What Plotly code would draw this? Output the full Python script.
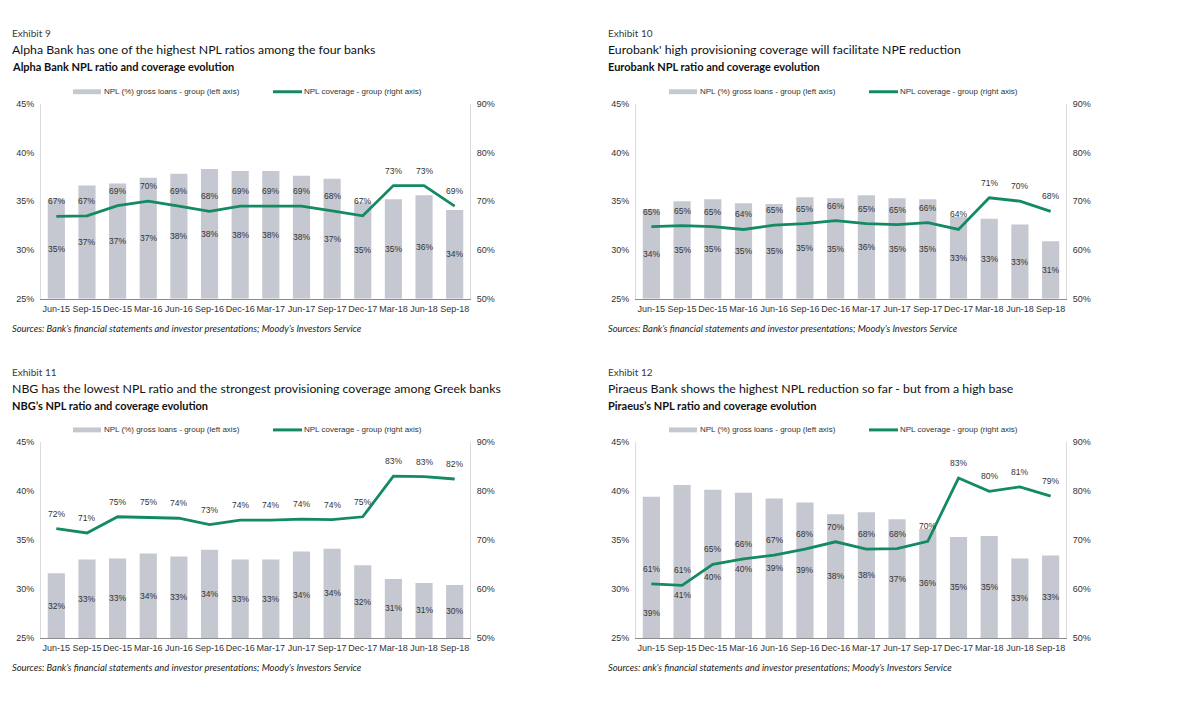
import plotly.graph_objects as go

# ---------------- data ----------------
DATES = ["Jun-15", "Sep-15", "Dec-15", "Mar-16", "Jun-16", "Sep-16", "Dec-16",
         "Mar-17", "Jun-17", "Sep-17", "Dec-17", "Mar-18", "Jun-18", "Sep-18"]

LEFT_TICKS = [25, 30, 35, 40, 45]
RIGHT_TICKS = [50, 60, 70, 80, 90]

ALPHA_NPL = [35.2, 36.6, 36.8, 37.4, 37.8, 38.3, 38.1, 38.1, 37.6, 37.3, 34.9, 35.2, 35.6, 34.1]
ALPHA_COV = [66.9, 67.0, 69.1, 70.0, 69.0, 67.9, 69.0, 69.0, 69.0, 68.0, 67.0, 73.2, 73.2, 69.0]

EURO_NPL = [34.2, 35.0, 35.2, 34.8, 34.7, 35.4, 35.3, 35.6, 35.3, 35.2, 33.4, 33.2, 32.6, 30.9]
EURO_COV = [64.8, 65.0, 64.8, 64.2, 65.1, 65.4, 66.0, 65.4, 65.2, 65.6, 64.2, 70.7, 70.0, 67.9]

NBG_NPL = [31.6, 33.0, 33.1, 33.6, 33.3, 34.0, 33.0, 33.0, 33.8, 34.1, 32.4, 31.0, 30.6, 30.4]
NBG_COV = [72.3, 71.4, 74.7, 74.6, 74.4, 73.1, 74.0, 74.0, 74.2, 74.1, 74.7, 83.0, 82.9, 82.4]

PIRAEUS_NPL = [39.4, 40.6, 40.1, 39.8, 39.2, 38.8, 37.6, 37.8, 37.1, 36.1, 35.3, 35.4, 33.1, 33.4]
PIRAEUS_COV = [61.0, 60.7, 65.0, 66.1, 66.9, 68.1, 69.6, 68.1, 68.2, 69.7, 82.6, 79.9, 80.8, 78.9]

BAR_NAME = "NPL (%) gross loans - group (left axis)"
LINE_NAME = "NPL coverage - group (right axis)"

SOURCES = "Sources: Bank\u2019s financial statements and investor presentations; Moody\u2019s Investors Service"
SOURCES_P = "Sources: ank\u2019s financial statements and investor presentations; Moody\u2019s Investors Service"

# ---------------- styling ----------------
W, H = 1200, 707
BAR_COLOR = "#c5c8d1"
LINE_COLOR = "#138a61"
TXT = "#333333"
ARIAL = "Liberation Sans, Arial, sans-serif"
HEAD = "Lato, Liberation Sans, sans-serif"

# label shifts (pixels) for the Piraeus bar labels moved in the original
PIRAEUS_BAR_LABEL_SHIFT = [-46, -34, -13, -4, 0, 0, 0, 0, 0, 0, 0, 0, 0, 0]
NO_SHIFT = [0] * 14

panels = [
    dict(exhibit="Exhibit 9",
         title="Alpha Bank has one of the highest NPL ratios among the four banks",
         subtitle="Alpha Bank NPL ratio and coverage evolution",
         sources=SOURCES, npl=ALPHA_NPL, cov=ALPHA_COV, shift=NO_SHIFT,
         px0=41, px1=470, py0=100, py1=298, tx=10, ty=0, lg=73, lgreen=273),
    dict(exhibit="Exhibit 10",
         title="Eurobank' high provisioning coverage will facilitate NPE reduction",
         subtitle="Eurobank NPL ratio and coverage evolution",
         sources=SOURCES, npl=EURO_NPL, cov=EURO_COV, shift=NO_SHIFT,
         px0=636, px1=1066, py0=100, py1=298, tx=606, ty=0, lg=669, lgreen=869),
    dict(exhibit="Exhibit 11",
         title="NBG has the lowest NPL ratio and the strongest provisioning coverage among Greek banks",
         subtitle="NBG\u2019s NPL ratio and coverage evolution",
         sources=SOURCES, npl=NBG_NPL, cov=NBG_COV, shift=NO_SHIFT,
         px0=41, px1=470, py0=443, py1=642, tx=10, ty=344, lg=73, lgreen=273),
    dict(exhibit="Exhibit 12",
         title="Piraeus Bank shows the highest NPL reduction so far - but from a high base",
         subtitle="Piraeus\u2019s NPL ratio and coverage evolution",
         sources=SOURCES_P, npl=PIRAEUS_NPL, cov=PIRAEUS_COV, shift=PIRAEUS_BAR_LABEL_SHIFT,
         px0=636, px1=1066, py0=443, py1=642, tx=606, ty=344, lg=669, lgreen=869),
]


def px_x(v):
    return v / W


def px_y(v):
    return 1 - v / H


fig = go.Figure()
layout = dict(
    width=W, height=H, autosize=False,
    margin=dict(l=0, r=0, t=0, b=0),
    paper_bgcolor="white", plot_bgcolor="white",
    showlegend=False,
    bargap=0.44,
)
annotations = []
shapes = []

for i, p in enumerate(panels, start=1):
    xn = "x" if i == 1 else f"x{i}"
    yl_idx = 2 * i - 1
    yr_idx = 2 * i
    yln = "y" if yl_idx == 1 else f"y{yl_idx}"
    yrn = f"y{yr_idx}"
    xkey = "xaxis" if i == 1 else f"xaxis{i}"
    ylkey = "yaxis" if yl_idx == 1 else f"yaxis{yl_idx}"
    yrkey = f"yaxis{yr_idx}"

    xdom = [px_x(p["px0"]), px_x(p["px1"])]
    ydom = [px_y(p["py1"]), px_y(p["py0"])]

    layout[xkey] = dict(domain=xdom, anchor=yln, type="category",
                        range=[-0.5, 13.5], showgrid=False, zeroline=False,
                        showline=True, linecolor="#8c8c8c", linewidth=1,
                        ticks="", tickangle=0,
                        tickfont=dict(family=ARIAL, size=9, color=TXT),
                        ticklabelstandoff=1, fixedrange=True)
    layout[ylkey] = dict(domain=ydom, anchor=xn, range=[25, 45],
                         tickvals=LEFT_TICKS, ticktext=[f"{v}%" for v in LEFT_TICKS],
                         showgrid=False, zeroline=False, showline=True,
                         linecolor="#dcdcdc", linewidth=1, ticks="",
                         tickfont=dict(family=ARIAL, size=9, color=TXT),
                         ticklabelstandoff=4, fixedrange=True)
    layout[yrkey] = dict(domain=ydom, anchor=xn, overlaying=yln, side="right",
                         range=[50, 90], tickvals=RIGHT_TICKS,
                         ticktext=[f"{v}%" for v in RIGHT_TICKS],
                         showgrid=False, zeroline=False, showline=True,
                         linecolor="#dcdcdc", linewidth=1, ticks="",
                         tickfont=dict(family=ARIAL, size=9, color=TXT),
                         ticklabelstandoff=4, fixedrange=True)

    fig.add_trace(go.Bar(x=DATES, y=[v - 25 for v in p["npl"]], base=25,
                         name=BAR_NAME, marker=dict(color=BAR_COLOR, line=dict(width=0)),
                         xaxis=xn, yaxis=yln, hoverinfo="skip"))
    fig.add_trace(go.Scatter(x=DATES, y=p["cov"], mode="lines", name=LINE_NAME,
                             line=dict(color=LINE_COLOR, width=2.8),
                             xaxis=xn, yaxis=yrn, hoverinfo="skip"))

    # data labels
    for d, v, s in zip(DATES, p["npl"], p["shift"]):
        annotations.append(dict(x=d, y=(25 + v) / 2, xref=xn, yref=yln,
                                text=f"{v:.0f}%", showarrow=False, yshift=s,
                                font=dict(family=ARIAL, size=8.5, color=TXT)))
    for d, v in zip(DATES, p["cov"]):
        annotations.append(dict(x=d, y=v, xref=xn, yref=yrn,
                                text=f"{v:.0f}%", showarrow=False, yshift=15,
                                font=dict(family=ARIAL, size=8.5, color=TXT)))

    ty = p["ty"]
    tx = p["tx"]
    # headings
    annotations.append(dict(x=px_x(tx), y=px_y(ty + 28), xref="paper", yref="paper",
                            xanchor="left", yanchor="middle", showarrow=False,
                            text=p["exhibit"],
                            font=dict(family=HEAD, size=10, color="#3a3a3a")))
    annotations.append(dict(x=px_x(tx), y=px_y(ty + 45), xref="paper", yref="paper",
                            xanchor="left", yanchor="middle", showarrow=False,
                            text=p["title"],
                            font=dict(family=HEAD, size=12.3, color="#111111")))
    annotations.append(dict(x=px_x(tx), y=px_y(ty + 62.5), xref="paper", yref="paper",
                            xanchor="left", yanchor="middle", showarrow=False,
                            text=f"<b>{p['subtitle']}</b>",
                            font=dict(family=HEAD, size=11, color="#111111")))
    annotations.append(dict(x=px_x(tx), y=px_y(p["py1"] + 30), xref="paper", yref="paper",
                            xanchor="left", yanchor="middle", showarrow=False,
                            text=f"<i>{p['sources']}</i>",
                            font=dict(family=HEAD, size=9.4, color="#222222")))
    # legend
    ly = p["py0"] - 12
    shapes.append(dict(type="rect", xref="paper", yref="paper",
                       x0=px_x(p["lg"]), x1=px_x(p["lg"] + 28),
                       y0=px_y(ly + 2.5), y1=px_y(ly - 2.5),
                       fillcolor=BAR_COLOR, line=dict(width=0)))
    annotations.append(dict(x=px_x(p["lg"] + 29), y=px_y(ly), xref="paper", yref="paper",
                            xanchor="left", yanchor="middle", showarrow=False,
                            text=BAR_NAME, font=dict(family=ARIAL, size=8, color=TXT)))
    shapes.append(dict(type="line", xref="paper", yref="paper",
                       x0=px_x(p["lgreen"]), x1=px_x(p["lgreen"] + 29),
                       y0=px_y(ly), y1=px_y(ly),
                       line=dict(color=LINE_COLOR, width=3)))
    annotations.append(dict(x=px_x(p["lgreen"] + 29), y=px_y(ly), xref="paper", yref="paper",
                            xanchor="left", yanchor="middle", showarrow=False,
                            text=LINE_NAME, font=dict(family=ARIAL, size=8, color=TXT)))

layout["annotations"] = annotations
layout["shapes"] = shapes
fig.update_layout(**layout)

fig.write_html("out.html", include_plotlyjs=True,
               config={"displayModeBar": False, "staticPlot": True},
               post_script="document.body.style.margin='0';")
